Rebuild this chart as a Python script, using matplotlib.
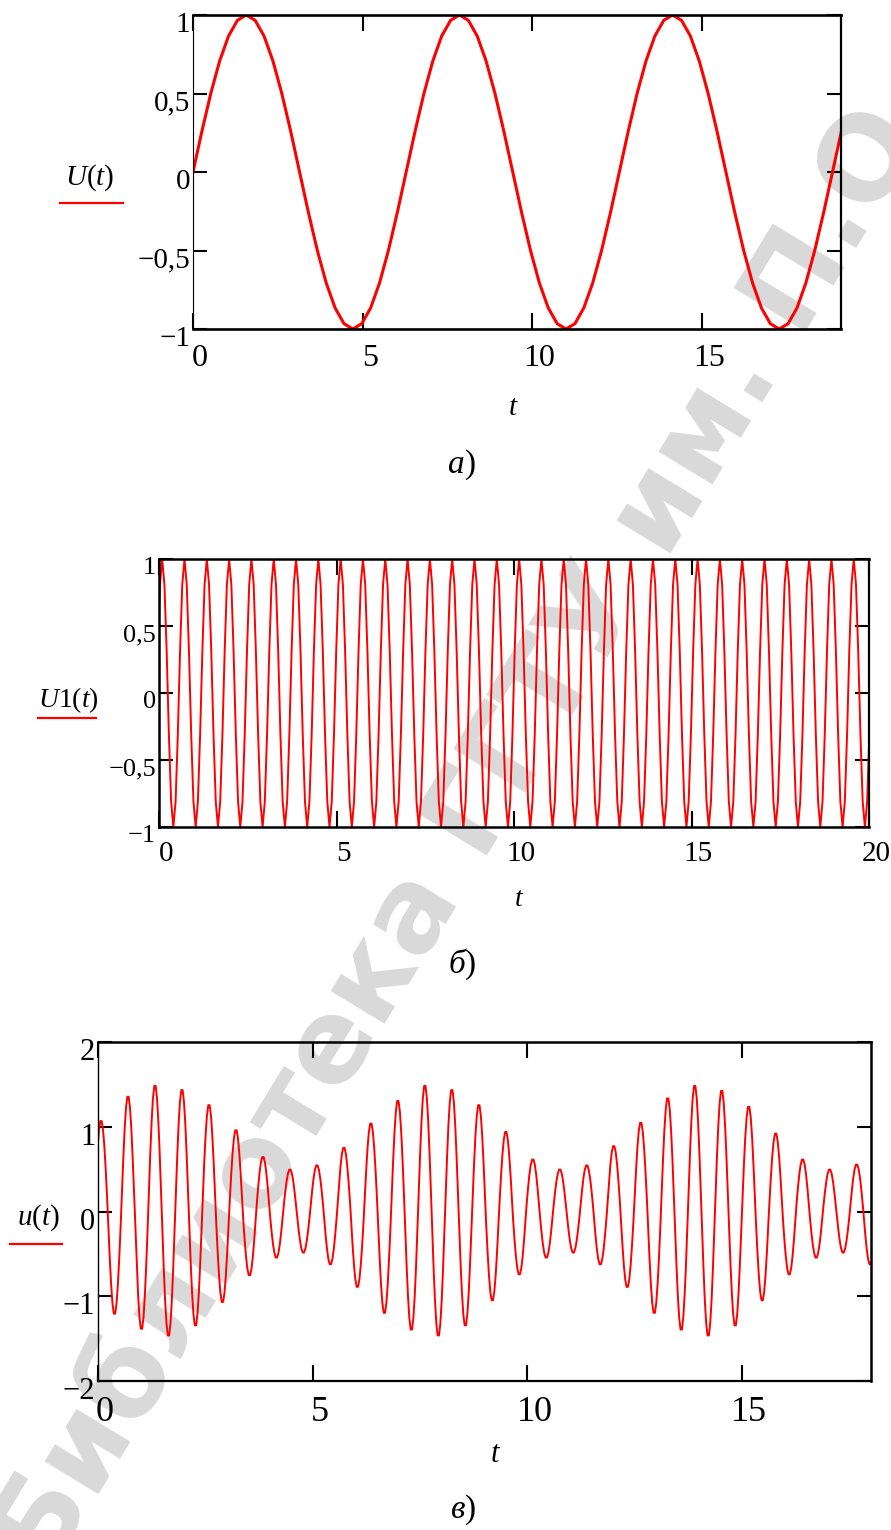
import numpy as np
import matplotlib
matplotlib.use("Agg")
import matplotlib.pyplot as plt
import matplotlib.transforms as mtransforms
from matplotlib.lines import Line2D

# ---- data ---------------------------------------------------------------
# panel a: U(t), extrema of each half-wave
U_T0 = 0.0
U_HALF = 3.1416
U_AMPS = [1.0, -1.0, 1.0, -1.0, 1.0, -1.0, 1.0]

# panel b: U1(t), every half-wave reaches +-1
U1_T0 = -0.067
U1_HALF = 0.3142
U1_PEAKS = [1.0] * 33
U1_TROUGHS = [-1.0] * 32

# panel c: u(t), beating signal, peaks and troughs of each carrier cycle
UC_T0 = -0.087
UC_HALF = 0.3142
UC_PEAKS = [1.08, 1.37, 1.50, 1.45, 1.27, 0.97, 0.65, 0.50, 0.55, 0.76,
            1.05, 1.32, 1.50, 1.45, 1.27, 0.95, 0.62, 0.50, 0.55, 0.78,
            1.06, 1.35, 1.50, 1.44, 1.25, 0.93, 0.62, 0.50, 0.56]
UC_TROUGHS = [-1.22, -1.40, -1.48, -1.36, -1.08, -0.76, -0.55, -0.49, -0.63, -0.90,
              -1.21, -1.41, -1.48, -1.36, -1.06, -0.75, -0.55, -0.49, -0.63, -0.90,
              -1.21, -1.41, -1.48, -1.36, -1.06, -0.75, -0.55, -0.49, -0.63]

# sampled half-wave profiles as drawn by Mathcad
HALF_A = [0.0, 0.259, 0.5, 0.707, 0.866, 0.966, 1.0, 0.966, 0.866, 0.707, 0.5, 0.259]
HALF_B = [0.31, 0.81, 1.0, 0.81, 0.31]
HALF_C = [0.156, 0.454, 0.707, 0.891, 0.988, 0.988, 0.891, 0.707, 0.454, 0.156]

Y_TICKS_AB = [-1, -0.5, 0, 0.5, 1]
Y_LABELS_AB = ["\u22121", "\u22120,5", "0", "0,5", "1"]
Y_TICKS_C = [-2, -1, 0, 1, 2]
Y_LABELS_C = ["\u22122", "\u22121", "0", "1", "2"]

W, H = 891, 1530
RED = "#ff0000"

plt.rcParams["font.family"] = ["Liberation Serif", "DejaVu Serif"]
plt.rcParams["mathtext.fontset"] = "custom"
plt.rcParams["mathtext.rm"] = "Liberation Serif"
plt.rcParams["mathtext.it"] = "Liberation Serif:italic"


def interleave(peaks, troughs):
    out = []
    for i, p in enumerate(peaks):
        out.append(p)
        if i < len(troughs):
            out.append(troughs[i])
    return out


def wave(t0, half, amps, shape, offset):
    n = len(shape)
    t, y = [], []
    for i, a in enumerate(amps):
        for j, s in enumerate(shape):
            t.append(t0 + half * (i + (j + offset) / n))
            y.append(a * s)
    return np.array(t), np.array(y)


def px_axes(fig, left, top, right, bottom):
    return fig.add_axes([left / W, 1 - bottom / H, (right - left) / W, (bottom - top) / H])


def style_axes(ax, xlim, xticks, ylim, yticks, ylabels, xfs, yfs, xpad, spines):
    ax.set_facecolor("none")
    ax.set_xlim(*xlim)
    ax.set_ylim(*ylim)
    ax.set_xticks(xticks)
    ax.set_xticklabels([str(v) for v in xticks], fontsize=xfs)
    ax.set_yticks(yticks)
    ax.set_yticklabels(ylabels, fontsize=yfs)
    ax.tick_params(axis="x", direction="in", length=11.5, width=1.5,
                   top=True, bottom=True, pad=xpad)
    ax.tick_params(axis="y", direction="in", length=10, width=1.5,
                   left=True, right=True, pad=2)
    for side, lw in spines.items():
        ax.spines[side].set_linewidth(lw)
    dx = mtransforms.ScaledTranslation(7 / 100, 0, ax.figure.dpi_scale_trans)
    for lab in ax.get_xticklabels():
        lab.set_transform(lab.get_transform() + dx)
    dy = mtransforms.ScaledTranslation(0, -7 / 100, ax.figure.dpi_scale_trans)
    for lab in ax.get_yticklabels():
        lab.set_transform(lab.get_transform() + dy)


def side_label(fig, text, cx, cy, x0, x1, uy, fs):
    fig.text(cx / W, 1 - cy / H, text, ha="center", va="center", fontsize=fs)
    fig.add_artist(Line2D([x0 / W, x1 / W], [1 - uy / H, 1 - uy / H],
                          color=RED, lw=1.6, transform=fig.transFigure))


def caption(fig, letter, cx, cy, fs=24):
    fig.text(cx / W, 1 - cy / H, letter, ha="right", va="center",
             fontsize=fs, style="italic")
    fig.text(cx / W, 1 - cy / H, ")", ha="left", va="center", fontsize=fs)


fig = plt.figure(figsize=(W / 100, H / 100), dpi=100)

# watermark
fig.text(20 / W, 1 - 1560 / H, "Библиотека ГГТУ им. П.О. Сухого",
         rotation=58.7, rotation_mode="anchor", ha="left", va="center",
         fontsize=83, fontweight="bold", color="#d9d9d9",
         family="DejaVu Sans", zorder=-5, clip_on=True)

# ---- a) ------------------------------------------------------------------
ax1 = px_axes(fig, 193, 15, 841, 329)
t, y = wave(U_T0, U_HALF, U_AMPS, HALF_A, 0.0)
ax1.plot(t, y, color=RED, lw=2.2)
style_axes(ax1, (0, 19.1), [0, 5, 10, 15], (-1, 1), Y_TICKS_AB, Y_LABELS_AB,
           23, 21, 11, {"left": 0.8, "right": 1.6, "top": 1.9, "bottom": 1.9})
side_label(fig, r"$U(t)$", 90, 178, 60, 123, 203, 21)
fig.text(513 / W, 1 - 408 / H, r"$t$", ha="center", va="center", fontsize=21)
caption(fig, "а", 465, 465)

# ---- б) ------------------------------------------------------------------
ax2 = px_axes(fig, 159, 559, 869, 827)
t, y = wave(U1_T0, U1_HALF, interleave(U1_PEAKS, U1_TROUGHS), HALF_B, 0.5)
ax2.plot(t, y, color=RED, lw=1.4)
style_axes(ax2, (0, 20), [0, 5, 10, 15, 20], (-1, 1), Y_TICKS_AB, Y_LABELS_AB,
           21, 19, 10, {"left": 1.8, "right": 1.6, "top": 1.8, "bottom": 1.8})
side_label(fig, r"$U1(t)$", 68, 700, 38, 96, 718, 20)
fig.text(519 / W, 1 - 900 / H, r"$t$", ha="center", va="center", fontsize=20)
caption(fig, "б", 465, 965)

# ---- в) ------------------------------------------------------------------
ax3 = px_axes(fig, 98, 1042, 871, 1381)
t, y = wave(UC_T0, UC_HALF, interleave(UC_PEAKS, UC_TROUGHS), HALF_C, 0.5)
ax3.plot(t, y, color=RED, lw=1.4)
style_axes(ax3, (0, 18), [0, 5, 10, 15], (-2, 2), Y_TICKS_C, Y_LABELS_C,
           26, 22, 11, {"left": 1.0, "right": 1.8, "top": 1.8, "bottom": 1.6})
side_label(fig, r"$u(t)$", 38, 1218, 10, 62, 1244, 21)
fig.text(496 / W, 1 - 1455 / H, r"$t$", ha="center", va="center", fontsize=22)
caption(fig, "в", 465, 1510)

fig.savefig("out.png", dpi=100)
